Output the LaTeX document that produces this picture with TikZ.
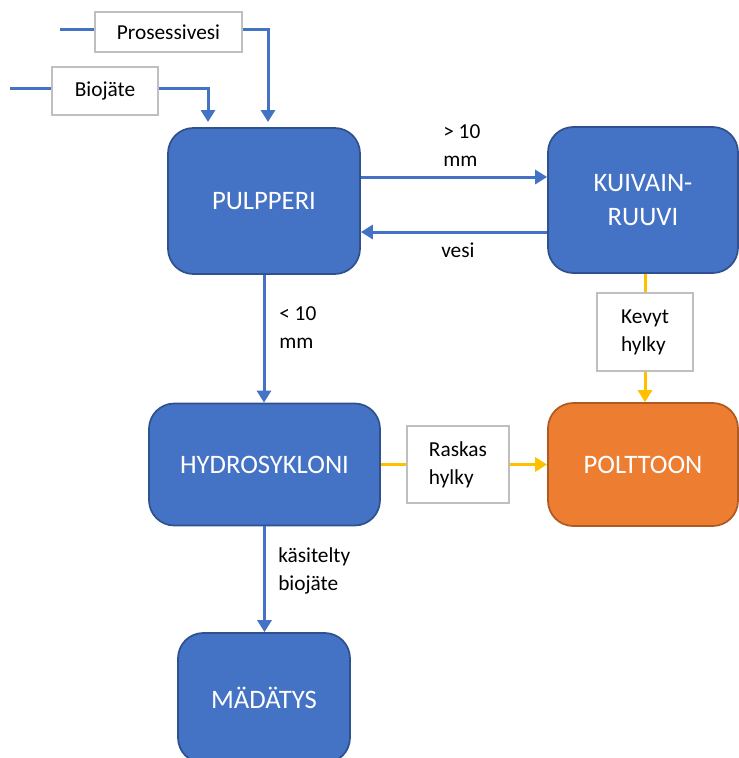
\documentclass[tikz,border=0pt]{standalone}
\usepackage{fontspec}
\setmainfont{Carlito}
\usetikzlibrary{arrows.meta}
\definecolor{blueF}{HTML}{4472C4}
\definecolor{blueD}{HTML}{2F528F}
\definecolor{oraF}{HTML}{ED7D31}
\definecolor{oraD}{HTML}{AE5A21}
\definecolor{yel}{HTML}{FFC000}
\definecolor{grayB}{HTML}{BFBFBF}
\tikzset{
  proc/.style={rounded corners=19pt, fill=blueF, draw=blueD, line width=1.3pt, text=white,
    font=\fontsize{20}{25}\selectfont, align=center, inner sep=0pt},
  lab/.style={draw=grayB, line width=1.5pt, fill=white, font=\fontsize{16}{21}\selectfont,
    align=left, inner sep=0pt},
  txt/.style={font=\fontsize{16}{21}\selectfont, align=left, anchor=west, inner sep=0pt},
  bl/.style={draw=blueF, line width=2.25pt},
  yl/.style={draw=yel, line width=2.25pt},
  tip/.style={-{Triangle[width=10.5pt,length=9pt]}}
}
\begin{document}
\begin{tikzpicture}[x=0.75pt,y=-0.75pt]
\clip (0,0) rectangle (739,758);
\fill[white] (0,0) rectangle (739,758);
% process boxes
\node[proc, minimum width=144pt, minimum height=109.5pt] (pulp) at (264,201) {PULPPERI};
\node[proc, minimum width=142.5pt, minimum height=109.5pt] (kuiv) at (643,200) {KUIVAIN-\\RUUVI};
\node[proc, minimum width=173.25pt, minimum height=91.5pt] (hyd) at (264.5,464.5) {HYDROSYKLONI};
\node[proc, fill=oraF, draw=oraD, minimum width=142.5pt, minimum height=92.25pt] (polt) at (643,464.5) {POLTTOON};
\node[proc, minimum width=129pt, minimum height=97.5pt] (mad) at (264,698) {MÄDÄTYS};
% label boxes
\node[lab, minimum width=110.25pt, minimum height=30pt] (pros) at (168.5,32) {Prosessivesi};
\node[lab, minimum width=79.5pt, minimum height=36pt] (bio) at (105,91) {Biojäte};
\node[lab, minimum width=76.5pt, minimum height=57.75pt] (rask) at (458,464.5) {Raskas\\hylky};
\node[lab, minimum width=72pt, minimum height=58.5pt] (kev) at (645,332) {Kevyt\\hylky};
% coordinates
\coordinate (ps) at (60,29);
\coordinate (pe) at (268,29);
\coordinate (pt) at (268,122);
\coordinate (bs) at (10,88);
\coordinate (be) at (208,88);
\coordinate (bt) at (208,122);
\coordinate (c1) at (450,177);
\coordinate (c2) at (450,232);
% input lines
\draw[bl] (ps) -- (ps -| pros.west);
\draw[bl, tip] (pros.east |- ps) -- (pe) -- (pt);
\draw[bl] (bs) -- (bs -| bio.west);
\draw[bl, tip] (bio.east |- bs) -- (be) -- (bt);
% flows
\draw[bl, tip] (pulp.east |- c1) -- (kuiv.west |- c1);
\draw[bl, tip] (kuiv.west |- c2) -- (pulp.east |- c2);
\draw[bl, tip] (pulp.south) -- (pulp.south |- hyd.north);
\draw[bl, tip] (hyd.south) -- (hyd.south |- mad.north);
\draw[yl] (hyd.east) -- (rask.west);
\draw[yl, tip] (rask.east) -- (polt.west);
\draw[yl] (kev.north |- kuiv.south) -- (kev.north);
\draw[yl, tip] (kev.south) -- (kev.south |- polt.north);
% text labels
\node[txt] (l1) at (443,146) {> 10\\mm};
\node[txt] (l2) at (441,250) {vesi};
\node[txt] (l3) at (279,328) {< 10\\mm};
\node[txt] (l4) at (278,571) {käsitelty\\biojäte};
\end{tikzpicture}
\end{document}
